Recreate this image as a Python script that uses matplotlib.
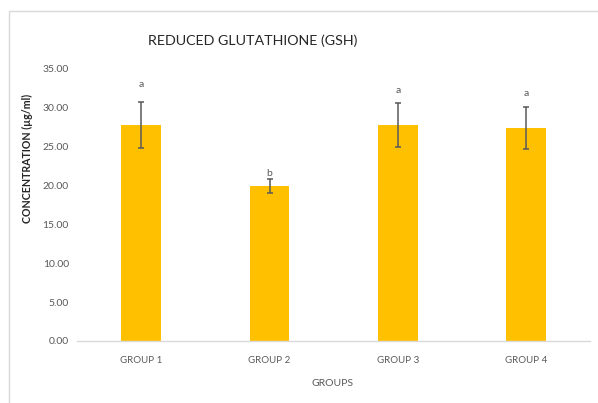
import matplotlib
matplotlib.use("Agg")
import matplotlib.pyplot as plt
from matplotlib.patches import Rectangle

groups = ["GROUP 1", "GROUP 2", "GROUP 3", "GROUP 4"]
means = [27.8, 19.9, 27.8, 27.4]
errors = [2.95, 0.9, 2.85, 2.65]
letters = ["a", "b", "a", "a"]
letter_heights = [33.0, 21.6, 32.2, 31.9]
yticks = [0, 5, 10, 15, 20, 25, 30, 35]

plt.rcParams["font.family"] = ["Lato", "DejaVu Sans"]

fig = plt.figure(figsize=(5.98, 4.03), dpi=100)
ax = fig.add_axes([0.129, 0.154, 0.858, 0.675])

x = list(range(len(groups)))
ax.bar(x, means, width=0.31, color="#FFC000", zorder=2)
ax.errorbar(x, means, yerr=errors, fmt="none", ecolor="#595959",
            elinewidth=1.1, capsize=2.5, capthick=1.1, zorder=3)
for xi, h, lab in zip(x, letter_heights, letters):
    ax.text(xi, h, lab, ha="center", va="center", fontsize=7.5,
            color="#595959")

ax.set_xlim(-0.5, 3.5)
ax.set_ylim(0, 35)
ax.set_xticks(x)
ax.set_xticklabels(groups, fontsize=7, color="#595959")
ax.set_yticks(yticks)
ax.set_yticklabels([f"{v:.2f}" for v in yticks], fontsize=7.5, color="#595959")
ax.tick_params(axis="x", length=0, pad=10.5)
ax.tick_params(axis="y", length=0, pad=6)
for side in ("top", "right", "left"):
    ax.spines[side].set_visible(False)
ax.spines["bottom"].set_color("#D9D9D9")
ax.spines["bottom"].set_linewidth(1.0)

fig.text(27 / 598, 1 - 158 / 403, "CONCENTRATION (µg/ml)", rotation=90,
         ha="center", va="center", fontsize=7.7, fontweight="bold",
         color="#262626")
fig.text(333 / 598, 1 - 383 / 403, "GROUPS", ha="center", va="center",
         fontsize=7.5, color="#595959")

fig.text(253 / 598, 1 - 41 / 403, "REDUCED GLUTATHIONE (GSH)", ha="center",
         va="center", fontsize=10.3, color="#262626")

# Chart-area outline
fig.add_artist(Rectangle((9 / 598, -0.05), 1.0, 1 - 11 / 403 + 0.05,
                         transform=fig.transFigure, fill=False,
                         edgecolor="#D9D9D9", linewidth=1.0))

fig.savefig("out.png", dpi=100)
